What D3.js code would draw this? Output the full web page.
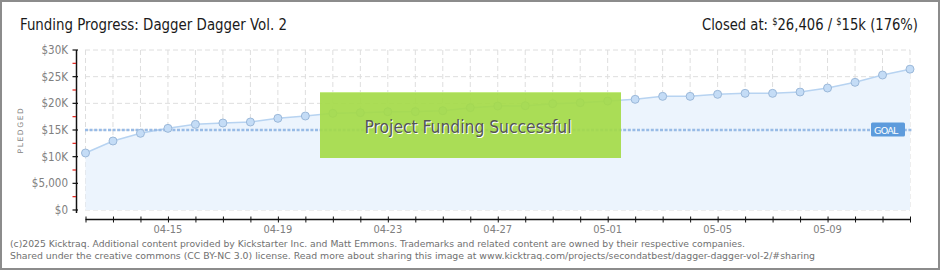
<!DOCTYPE html>
<html>
<head>
<meta charset="utf-8">
<script src="https://cdn.jsdelivr.net/npm/d3@7"></script>
<style>
  body { margin: 0; background: #fff; }
  svg { display: block; }
</style>
</head>
<body>
<script>
// data
const days = ['2025-04-12','2025-04-13','2025-04-14','2025-04-15','2025-04-16','2025-04-17','2025-04-18',
  '2025-04-19','2025-04-20','2025-04-21','2025-04-22','2025-04-23','2025-04-24','2025-04-25','2025-04-26',
  '2025-04-27','2025-04-28','2025-04-29','2025-04-30','2025-05-01','2025-05-02','2025-05-03','2025-05-04',
  '2025-05-05','2025-05-06','2025-05-07','2025-05-08','2025-05-09','2025-05-10','2025-05-11','2025-05-12'];
const pledged = [10690, 12940, 14380, 15310, 16060, 16310, 16500, 17190, 17625, 18130, 18250, 18430, 18450,
  18620, 19190, 19500, 19560, 19940, 20120, 20440, 20750, 21310, 21310, 21690, 21875, 21875, 22125, 22875,
  23940, 25310, 26406];
const goal = 15000;
const yTicks = [0, 5000, 10000, 15000, 20000, 25000, 30000];
const yTickLabels = ['$0', '$5,000', '$10K', '$15K', '$20K', '$25K', '$30K'];
const xLabelDays = ['2025-04-15', '2025-04-19', '2025-04-23', '2025-04-27', '2025-05-01', '2025-05-05', '2025-05-09'];

const width = 940, height = 270;
const parse = d3.timeParse('%Y-%m-%d');
const data = days.map((d, i) => ({ date: parse(d), value: pledged[i] }));

const svg = d3.select('body').append('svg')
  .attr('width', width)
  .attr('height', height);

// frame
svg.append('rect')
  .attr('x', 1).attr('y', 1)
  .attr('width', width - 2).attr('height', height - 2)
  .attr('fill', '#fff')
  .attr('stroke', '#8c8c8c')
  .attr('stroke-width', 2);

const x = d3.scaleTime()
  .domain([parse(days[0]), parse(days[days.length - 1])])
  .range([85.5, 910]);
const y = d3.scaleLinear()
  .domain([0, 30000])
  .range([210, 50]);

const narrow = '"Liberation Sans Narrow", "DejaVu Sans Condensed", sans-serif';

// grid
const grid = svg.append('g')
  .attr('stroke', '#dedede')
  .attr('stroke-dasharray', '5,3');
grid.selectAll('.v').data(data).enter().append('line')
  .attr('x1', d => x(d.date)).attr('x2', d => x(d.date))
  .attr('y1', 50).attr('y2', 210);
grid.selectAll('.h').data(yTicks).enter().append('line')
  .attr('x1', 85).attr('x2', 910)
  .attr('y1', d => y(d)).attr('y2', d => y(d));

// area + line
svg.append('path')
  .datum(data)
  .attr('fill', '#ecf4fd')
  .attr('d', d3.area().x(d => x(d.date)).y0(y(0)).y1(d => y(d.value)));

svg.append('path')
  .datum(data)
  .attr('fill', 'none')
  .attr('stroke', '#b7d3f1')
  .attr('stroke-width', 1.5)
  .attr('d', d3.line().x(d => x(d.date)).y(d => y(d.value)));

// goal line
svg.append('line')
  .attr('x1', 85).attr('x2', 913)
  .attr('y1', y(goal)).attr('y2', y(goal))
  .attr('stroke', '#98bbe6')
  .attr('stroke-width', 2.5)
  .attr('stroke-dasharray', '3,1.6');

// points
svg.selectAll('circle.pt')
  .data(data)
  .enter().append('circle')
  .attr('class', 'pt')
  .attr('cx', d => x(d.date))
  .attr('cy', d => y(d.value))
  .attr('r', 4)
  .attr('fill', '#c4dcf6')
  .attr('stroke', '#9bb8d9')
  .attr('stroke-width', 1);

// goal badge
const gy = y(goal);
svg.append('rect')
  .attr('x', 871).attr('y', gy - 7.5)
  .attr('width', 34).attr('height', 14)
  .attr('rx', 1.5)
  .attr('fill', '#5d9bdc');
svg.append('text')
  .attr('x', 874).attr('y', gy + 4)
  .attr('fill', '#fff')
  .attr('font-family', '"DejaVu Sans", sans-serif')
  .attr('font-size', 9.5)
  .attr('letter-spacing', 0.6)
  .attr('textLength', 25)
  .text('GOAL');

// y axis
svg.append('line')
  .attr('x1', 76.5).attr('x2', 76.5)
  .attr('y1', 50).attr('y2', 213)
  .attr('stroke', '#111').attr('stroke-width', 1.5);
svg.selectAll('.ytick').data(yTicks).enter().append('line')
  .attr('x1', 72.5).attr('x2', 78)
  .attr('y1', d => y(d)).attr('y2', d => y(d))
  .attr('stroke', '#111').attr('stroke-width', 1.2);
svg.selectAll('.yminor').data(yTicks.slice(1)).enter().append('line')
  .attr('x1', 72.5).attr('x2', 76)
  .attr('y1', d => y(d - 2500)).attr('y2', d => y(d - 2500))
  .attr('stroke', '#e0201a').attr('stroke-width', 1.2);
svg.selectAll('.ylab').data(yTicks).enter().append('text')
  .attr('x', 68)
  .attr('y', d => y(d) + 4)
  .attr('text-anchor', 'end')
  .attr('fill', '#808080')
  .attr('font-family', narrow)
  .attr('font-size', 11.5)
  .text((d, i) => yTickLabels[i]);

svg.append('text')
  .attr('transform', 'translate(23,130) rotate(-90)')
  .attr('text-anchor', 'middle')
  .attr('fill', '#808080')
  .attr('font-family', '"DejaVu Sans", sans-serif')
  .attr('font-size', 7.5)
  .attr('letter-spacing', 1.6)
  .text('PLEDGED');

// x axis
const xAxis = d3.axisBottom(x)
  .tickValues(data.map(d => d.date))
  .tickSize(3)
  .tickFormat('');
const xg = svg.append('g')
  .attr('transform', 'translate(0,219.5)')
  .call(xAxis);
xg.select('.domain').attr('stroke', '#111').attr('stroke-width', 1.5)
  .attr('d', `M${x.range()[0]},0H${x.range()[1]}`);
xg.selectAll('.tick line').attr('stroke', '#111').attr('y1', -3).attr('y2', 3);

svg.selectAll('.xlab').data(xLabelDays).enter().append('text')
  .attr('x', d => x(parse(d)))
  .attr('y', 233)
  .attr('text-anchor', 'middle')
  .attr('fill', '#808080')
  .attr('font-family', narrow)
  .attr('font-size', 11)
  .text(d => d.slice(5));

// success banner
svg.append('rect')
  .attr('x', 320).attr('y', 92)
  .attr('width', 301).attr('height', 66)
  .attr('fill', '#a4da48')
  .attr('fill-opacity', 0.92);
svg.append('line')
  .attr('x1', 320).attr('x2', 621).attr('y1', 92.5).attr('y2', 92.5)
  .attr('stroke', '#c4ec84');
svg.append('text')
  .attr('x', 469).attr('y', 134)
  .attr('text-anchor', 'middle')
  .attr('fill', '#fff')
  .attr('font-family', narrow)
  .attr('font-size', 18.5)
  .attr('textLength', 207)
  .attr('lengthAdjust', 'spacingAndGlyphs')
  .text('Project Funding Successful');
svg.append('text')
  .attr('x', 468).attr('y', 133)
  .attr('text-anchor', 'middle')
  .attr('fill', '#555')
  .attr('font-family', narrow)
  .attr('font-size', 18.5)
  .attr('textLength', 207)
  .attr('lengthAdjust', 'spacingAndGlyphs')
  .text('Project Funding Successful');

// header
svg.append('text')
  .attr('x', 20).attr('y', 30)
  .attr('fill', '#1a1a1a')
  .attr('font-family', narrow)
  .attr('font-size', 16.5)
  .attr('textLength', 267)
  .attr('lengthAdjust', 'spacingAndGlyphs')
  .text('Funding Progress: Dagger Dagger Vol. 2');

// closing total, one text with raised small dollar signs
const closed = svg.append('text')
  .attr('x', 702).attr('y', 30)
  .attr('fill', '#1a1a1a')
  .attr('font-family', narrow)
  .attr('font-size', 16.5)
  .attr('textLength', 216)
  .attr('lengthAdjust', 'spacingAndGlyphs');
closed.append('tspan').text('Closed at:  ');
closed.append('tspan').attr('font-size', 10.5).attr('baseline-shift', '5').text('$');
closed.append('tspan').text('26,406 /  ');
closed.append('tspan').attr('font-size', 10.5).attr('baseline-shift', '5').text('$');
closed.append('tspan').text('15k (176%)');

// footer
const foot = ['(c)2025 Kicktraq. Additional content provided by Kickstarter Inc. and Matt Emmons. Trademarks and related content are owned by their respective companies.',
  'Shared under the creative commons (CC BY-NC 3.0) license. Read more about sharing this image at www.kicktraq.com/projects/secondatbest/dagger-dagger-vol-2/#sharing'];
const footLen = [735, 805];
svg.selectAll('.foot').data(foot).enter().append('text')
  .attr('x', 10)
  .attr('y', (d, i) => 246.5 + i * 12)
  .attr('fill', '#707070')
  .attr('font-family', '"DejaVu Sans", sans-serif')
  .attr('font-size', 9)
  .attr('textLength', (d, i) => footLen[i])
  .attr('lengthAdjust', 'spacingAndGlyphs')
  .text(d => d);
</script>
</body>
</html>
